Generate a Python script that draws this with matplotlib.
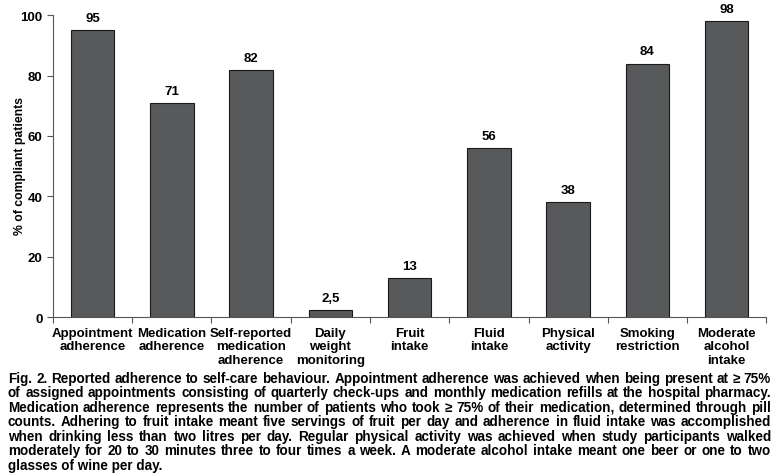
import matplotlib
matplotlib.use("Agg")
import matplotlib.pyplot as plt

categories = ["Appointment\nadherence", "Medication\nadherence", "Self-reported\nmedication\nadherence",
              "Daily\nweight\nmonitoring", "Fruit\nintake", "Fluid\nintake", "Physical\nactivity",
              "Smoking\nrestriction", "Moderate\nalcohol\nintake"]
values = [95, 71, 82, 2.5, 13, 56, 38, 84, 98]
value_labels = ["95", "71", "82", "2,5", "13", "56", "38", "84", "98"]
yticks = [0, 20, 40, 60, 80, 100]

caption_lines = [
    "Fig. 2. Reported adherence to self-care behaviour. Appointment adherence was achieved when being present at \u2265 75%",
    "of assigned appointments consisting of quarterly check-ups and monthly medication refills at the hospital pharmacy.",
    "Medication adherence represents the number of patients who took \u2265 75% of their medication, determined through pill",
    "counts. Adhering to fruit intake meant five servings of fruit per day and adherence in fluid intake was accomplished",
    "when drinking less than two litres per day. Regular physical activity was achieved when study participants walked",
    "moderately for 20 to 30 minutes three to four times a week. A moderate alcohol intake meant one beer or one to two",
    "glasses of wine per day.",
]

plt.rcParams['font.family'] = ["Liberation Sans", "DejaVu Sans"]

fig = plt.figure(figsize=(7.78, 4.77), dpi=100)
ax = fig.add_axes([0.068, 0.333, 0.917, 0.633])

x = list(range(len(values)))
ax.bar(x, values, width=0.55, color="#58595b", edgecolor="#1a1a1a", linewidth=0.8, zorder=2)
for xi, v, lab in zip(x, values, value_labels):
    ax.text(xi, v + 2, lab, ha="center", va="bottom", fontsize=9.5, fontweight="bold")

ax.set_xlim(-0.5, len(values) - 0.5)
ax.set_ylim(0, 100)
ax.set_yticks(yticks)
ax.set_yticklabels([str(t) for t in yticks], fontsize=9.5, fontweight="bold")
ax.set_xticks([i - 0.5 for i in range(len(values) + 1)])
ax.set_xticklabels([])
ax.set_xticks(x, minor=True)
ax.set_xticklabels(categories, minor=True, fontsize=9.5, fontweight="bold", linespacing=1.15, va="top")
ax.tick_params(axis="x", which="minor", length=0, pad=7)
ax.tick_params(axis="x", which="major", length=4, direction="out", color="#555555")
ax.tick_params(axis="y", length=4, direction="out", color="#555555")
for s in ["top", "right"]:
    ax.spines[s].set_visible(False)
ax.spines["left"].set_color("#555555")
ax.spines["bottom"].set_color("#555555")

fig.text(20 / 778, 1 - 166 / 477, "% of compliant patients", rotation=90, ha="center", va="center",
         fontsize=8.8, fontweight="bold")

# caption, justified
renderer = fig.canvas.get_renderer()
left_px, right_px = 8, 771
top_y = 379
step = 14.5
probe = fig.text(0, 0, "", fontsize=10, fontweight="bold")
maxw = 0
for l in caption_lines:
    probe.set_text(l)
    maxw = max(maxw, probe.get_window_extent(renderer).width)
probe.remove()
fs = 10 * (right_px - left_px - 4) / maxw
for i, line in enumerate(caption_lines):
    ypix = top_y + i * step
    yf = 1 - ypix / 477
    if i == len(caption_lines) - 1:
        fig.text(left_px / 778, yf, line, fontsize=fs, fontweight="bold", va="center", ha="left")
        continue
    words = line.split(" ")
    ts = [fig.text(0, 0, w, fontsize=fs, fontweight="bold", va="center", ha="left") for w in words]
    widths = [t.get_window_extent(renderer).width for t in ts]
    total = sum(widths)
    gap = (right_px - left_px - total) / (len(words) - 1)
    xp = left_px
    for t, w in zip(ts, widths):
        t.set_position((xp / 778, yf))
        xp += w + gap

fig.savefig("out.png", dpi=100)
